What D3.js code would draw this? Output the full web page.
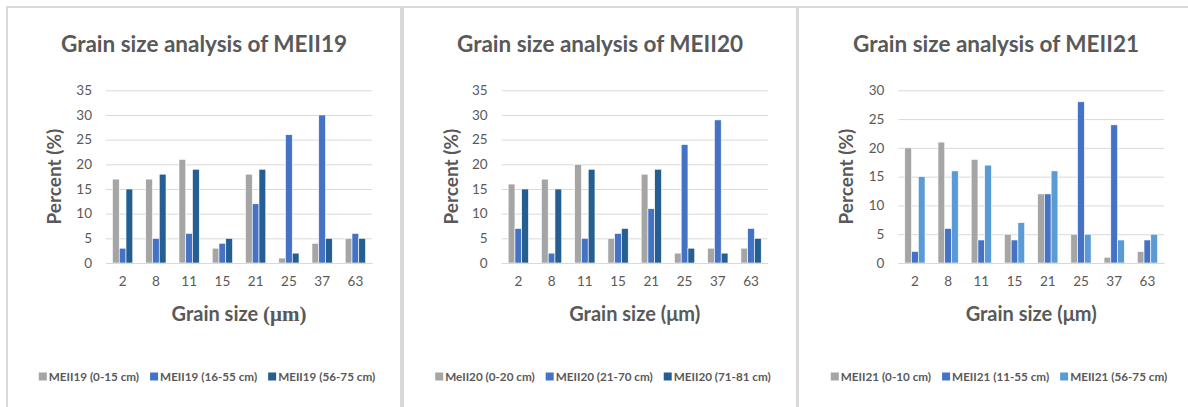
<!DOCTYPE html>
<html>
<head>
<meta charset="utf-8">
<script src="https://cdn.jsdelivr.net/npm/d3@7"></script>
<style>
  html, body { margin: 0; padding: 0; background: #fff; }
  svg { display: block; }
  text { font-family: Lato, "Open Sans", sans-serif; fill: #595959; }
</style>
</head>
<body>
<svg id="chart" width="1188" height="407"></svg>
<script>
// Grain size classes (µm) shared by all three cores
const grainSizes = ["2", "8", "11", "15", "21", "25", "37", "63"];

// MEII19 depth intervals
const meii19Labels = ["MEII19 (0-15 cm)", "MEII19 (16-55 cm)", "MEII19 (56-75 cm)"];
const meii19Top    = [17, 17, 21, 3, 18, 1, 4, 5];
const meii19Mid    = [3, 5, 6, 4, 12, 26, 30, 6];
const meii19Bottom = [15, 18, 19, 5, 19, 2, 5, 5];

// MEII20 depth intervals
const meii20Labels = ["MeII20 (0-20 cm)", "MEII20 (21-70 cm)", "MEII20 (71-81 cm)"];
const meii20Top    = [16, 17, 20, 5, 18, 2, 3, 3];
const meii20Mid    = [7, 2, 5, 6, 11, 24, 29, 7];
const meii20Bottom = [15, 15, 19, 7, 19, 3, 2, 5];

// MEII21 depth intervals
const meii21Labels = ["MEII21 (0-10 cm)", "MEII21 (11-55 cm)", "MEII21 (56-75 cm)"];
const meii21Top    = [20, 21, 18, 5, 12, 5, 1, 2];
const meii21Mid    = [2, 6, 4, 4, 12, 28, 24, 4];
const meii21Bottom = [15, 16, 17, 7, 16, 5, 4, 5];

const yTicks35 = [0, 5, 10, 15, 20, 25, 30, 35];
const yTicks30 = [0, 5, 10, 15, 20, 25, 30];

const svg = d3.select("#chart");

const panels = [
  {
    title: "Grain size analysis of MEII19",
    labels: meii19Labels,
    series: [meii19Top, meii19Mid, meii19Bottom],
    colors: ["#A5A5A5", "#4472C4", "#255E91"],
    yMax: 35, ticks: yTicks35,
    box: [7, 7, 401], plot: [106, 372], yTitleX: 55,
    serifUnit: true
  },
  {
    title: "Grain size analysis of MEII20",
    labels: meii20Labels,
    series: [meii20Top, meii20Mid, meii20Bottom],
    colors: ["#A5A5A5", "#4472C4", "#255E91"],
    yMax: 35, ticks: yTicks35,
    box: [403, 7, 797], plot: [501.7, 767.7], yTitleX: 451.7,
    serifUnit: false
  },
  {
    title: "Grain size analysis of MEII21",
    labels: meii21Labels,
    series: [meii21Top, meii21Mid, meii21Bottom],
    colors: ["#A5A5A5", "#4472C4", "#5B9BD5"],
    yMax: 30, ticks: yTicks30,
    box: [798, 7, 1194], plot: [898.3, 1164], yTitleX: 847,
    serifUnit: false
  }
];

const plotTop = 90.3, plotBottom = 263;

panels.forEach(p => {
  const g = svg.append("g");
  const [bx0, by0, bx1] = p.box;
  const cx = (bx0 + bx1) / 2;

  // panel frame (open at the bottom)
  g.append("path")
    .attr("d", `M${bx0},420 V${by0} H${bx1} V420`)
    .attr("fill", "none")
    .attr("stroke", "#D9D9D9")
    .attr("stroke-width", 2);

  // title
  g.append("text")
    .attr("x", cx).attr("y", 52)
    .attr("text-anchor", "middle")
    .attr("font-size", 22.5).attr("font-weight", 700)
    .text(p.title);

  const x0 = d3.scaleBand().domain(grainSizes)
    .range(p.plot).paddingInner(0.39).paddingOuter(0.195);
  const x1 = d3.scaleBand().domain(d3.range(p.series.length))
    .range([0, x0.bandwidth()]);
  const y = d3.scaleLinear().domain([0, p.yMax]).range([plotBottom, plotTop]);

  // gridlines and value labels
  const yAxis = d3.axisLeft(y).tickValues(p.ticks)
    .tickSize(-(p.plot[1] - p.plot[0])).tickPadding(14);
  const ya = g.append("g").attr("transform", `translate(${p.plot[0]},0)`).call(yAxis);
  ya.select(".domain").remove();
  ya.selectAll(".tick line").attr("stroke", "#D9D9D9").attr("stroke-width", 1);
  ya.selectAll(".tick text").attr("font-size", 13.5).attr("fill", "#595959")
    .attr("font-family", "Lato, sans-serif");

  // bars
  grainSizes.forEach((c, i) => {
    p.series.forEach((vals, s) => {
      g.append("rect")
        .attr("x", x0(c) + x1(s))
        .attr("y", y(vals[i]))
        .attr("width", x1.bandwidth())
        .attr("height", plotBottom - y(vals[i]))
        .attr("fill", p.colors[s])
        .attr("stroke", "#fff").attr("stroke-width", 0.6);
    });
  });

  // category axis
  const xAxis = d3.axisBottom(x0).tickSize(0).tickPadding(13);
  const xa = g.append("g").attr("transform", `translate(0,${plotBottom})`).call(xAxis);
  xa.select(".domain").attr("stroke", "#D9D9D9");
  xa.selectAll(".tick text").attr("font-size", 13.5).attr("fill", "#595959")
    .attr("font-family", "Lato, sans-serif");

  // axis titles
  const xt = g.append("text")
    .attr("x", (p.plot[0] + p.plot[1]) / 2).attr("y", 321)
    .attr("text-anchor", "middle")
    .attr("font-size", 20).attr("font-weight", 700);
  if (p.serifUnit) {
    xt.append("tspan").text("Grain size ");
    xt.append("tspan").attr("font-family", "'Liberation Serif', serif").attr("font-size", 21).text("(μm)");
  } else {
    xt.text("Grain size (μm)");
  }

  g.append("text")
    .attr("transform", `translate(${p.yTitleX + 6},${(plotTop + plotBottom) / 2}) rotate(-90)`)
    .attr("text-anchor", "middle")
    .attr("font-size", 19).attr("font-weight", 700)
    .text("Percent (%)");

  // legend
  const lg = g.append("g");
  let lx = 0;
  p.labels.forEach((lab, s) => {
    const item = lg.append("g").attr("transform", `translate(${lx},0)`);
    item.append("rect").attr("x", 0).attr("y", -8.5).attr("width", 8).attr("height", 8)
      .attr("fill", p.colors[s]);
    const t = item.append("text").attr("x", 10).attr("y", 0)
      .attr("font-size", 11.7).attr("font-weight", 700).text(lab);
    lx += 10 + t.node().getComputedTextLength() + 11;
  });
  const lw = lx - 11;
  lg.attr("transform", `translate(${cx + 3 - lw / 2},381)`);
});
</script>
</body>
</html>
